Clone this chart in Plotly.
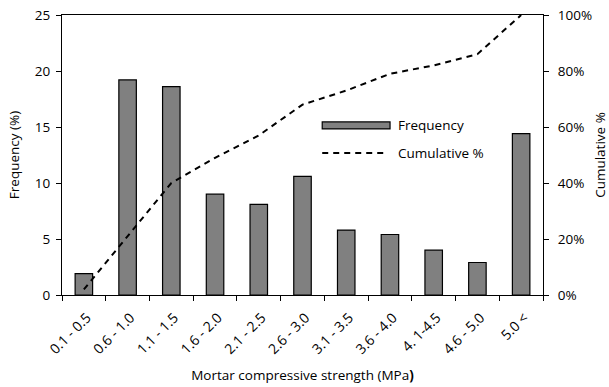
import plotly.graph_objects as go

categories = ["0.1 - 0.5", "0.6 - 1.0", "1.1 - 1.5", "1.6 - 2.0", "2.1 - 2.5", "2.6 - 3.0",
              "3.1 - 3.5", "3.6 - 4.0", "4. 1-4.5", "4.6 - 5.0", "5.0 <"]
frequency = [1.9, 19.2, 18.6, 9.0, 8.1, 10.6, 5.8, 5.4, 4.0, 2.9, 14.4]
cumulative = [0.02, 0.21, 0.40, 0.49, 0.57, 0.68, 0.73, 0.79, 0.82, 0.86, 1.00]

FONT = "'Open Sans', sans-serif"
FS = 13.5
fig = go.Figure()
fig.add_trace(go.Bar(x=categories, y=frequency, name="Frequency",
                     marker=dict(color="#808080", line=dict(color="black", width=1.2)),
                     showlegend=False))
fig.add_trace(go.Scatter(x=categories, y=cumulative, name="Cumulative %", yaxis="y2",
                         mode="lines", line=dict(color="black", width=2, dash="6px,5px"),
                         showlegend=False))

# hand-drawn legend inside the plot area
fig.add_shape(type="rect", xref="paper", yref="paper", x0=0.541, x1=0.682, y0=0.593, y1=0.618,
              fillcolor="#808080", line=dict(color="black", width=1.2))
fig.add_shape(type="line", xref="paper", yref="paper", x0=0.541, x1=0.67, y0=0.507, y1=0.507,
              line=dict(color="black", width=2, dash="6px,5px"))
fig.add_annotation(xref="paper", yref="paper", x=0.694, y=0.606, text="Frequency",
                   showarrow=False, xanchor="left", font=dict(family=FONT, size=FS, color="black"))
fig.add_annotation(xref="paper", yref="paper", x=0.694, y=0.507, text="Cumulative %",
                   showarrow=False, xanchor="left", font=dict(family=FONT, size=FS, color="black"))

axis_common = dict(showline=True, linecolor="black", linewidth=1.2, ticks="outside",
                   ticklen=5, tickcolor="black", showgrid=False, zeroline=False,
                   automargin=False, tickfont=dict(family=FONT, size=FS, color="black"))
fig.update_layout(
    width=609, height=387, margin=dict(l=62, r=66, t=15, b=92),
    plot_bgcolor="white", paper_bgcolor="white", bargap=0.6,
    font=dict(family=FONT, size=FS, color="black"),
    xaxis=dict(**{**axis_common, "tickfont": dict(family=FONT, size=14, color="black")},
               type="category", range=[-0.5, 10.5], tickangle=-45,
               tickson="boundaries", mirror=True, ticklabelstandoff=8, ticklabelshift=3,
               title=dict(text="Mortar compressive strength (MPa<b>)</b>", standoff=13,
                          font=dict(family=FONT, size=FS))),
    yaxis=dict(**axis_common, range=[0, 25], dtick=5, ticklabelstandoff=3,
               title=dict(text="Frequency (%)", standoff=12, font=dict(family=FONT, size=FS))),
    yaxis2=dict(**axis_common, overlaying="y", side="right", range=[0, 1], dtick=0.2,
                tickformat=".0%", ticklabelstandoff=6,
                title=dict(text="Cumulative %", standoff=16, font=dict(family=FONT, size=FS))),
)
fig.write_html("out.html")
